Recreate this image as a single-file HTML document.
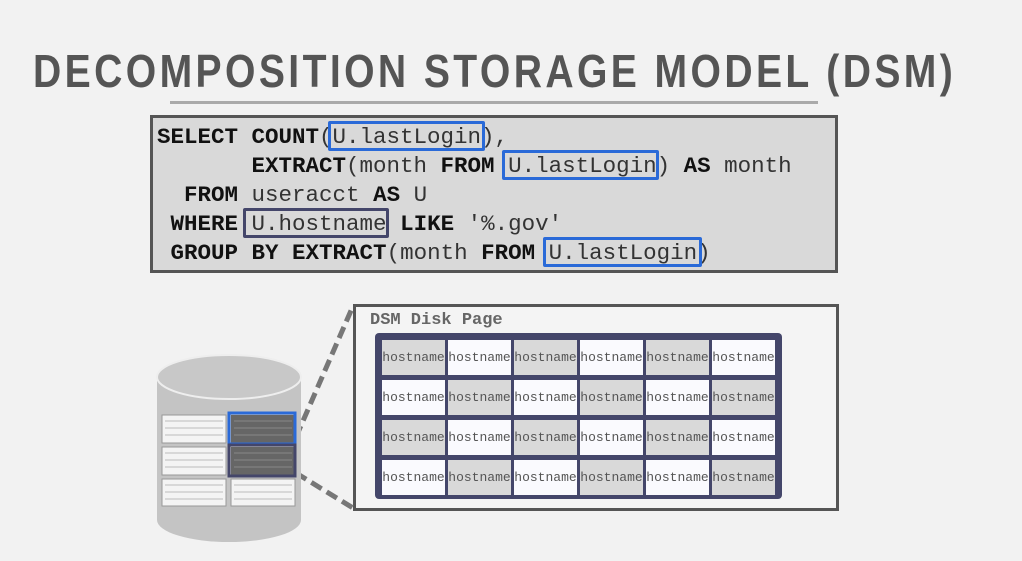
<!DOCTYPE html>
<html><head><meta charset="utf-8"><style>
body{margin:0;width:1022px;height:561px;background:#f2f2f2;position:relative;overflow:hidden;font-family:"Liberation Sans",sans-serif}
.abs{position:absolute}
.title{left:33px;top:44px;font-size:46px;font-weight:bold;color:#555;letter-spacing:4px;white-space:nowrap;transform-origin:0 0;transform:scaleX(0.85)}
.sql{left:150px;top:115px;width:682px;height:152px;background:#d9d9d9;border:3px solid #555}
pre{margin:0;position:absolute;left:157px;top:123px;font-family:"Liberation Mono",monospace;font-size:22.5px;line-height:29px;color:#333}
pre b{color:#111}
.bx{position:absolute;border:3px solid #2a6ad8;border-radius:2px;box-sizing:border-box}
.page{left:353px;top:304px;width:480px;height:201px;background:#f4f4f4;border:3px solid #555}
.frame{left:375px;top:333px;width:407px;height:166px;background:#44466a;border-radius:4px}
.cell{position:absolute;width:63px;height:35px;font-family:"Liberation Mono",monospace;font-size:13px;color:#555;line-height:35px;text-align:center;overflow:hidden;white-space:nowrap}
</style></head><body>
<div class="abs title">DECOMPOSITION STORAGE MODEL (DSM)</div>
<div class="abs" style="left:170px;top:101px;width:648px;height:3px;background:#aaa"></div>
<div class="abs sql"></div>
<pre><b>SELECT COUNT</b>(U.lastLogin),
       <b>EXTRACT</b>(month <b>FROM</b> U.lastLogin) <b>AS</b> month
  <b>FROM</b> useracct <b>AS</b> U
 <b>WHERE</b> U.hostname <b>LIKE</b> '%.gov'
 <b>GROUP BY EXTRACT</b>(month <b>FROM</b> U.lastLogin)</pre>
<div class="bx" style="left:328px;top:121px;width:157px;height:30px"></div>
<div class="bx" style="left:502px;top:150px;width:157px;height:30px"></div>
<div class="bx" style="left:243px;top:208px;width:146px;height:30px;border-color:#44466a"></div>
<div class="bx" style="left:543px;top:237px;width:159px;height:30px"></div>

<div class="abs page"></div>
<div class="abs" style="left:370px;top:311px;font-family:'Liberation Mono',monospace;font-weight:bold;font-size:17px;color:#666">DSM Disk Page</div>
<div class="abs frame"></div>
<div id="g"></div>
<script>
var h='';for(var r=0;r<4;r++)for(var c=0;c<6;c++){var gray=((r+c)%2==0);
h+='<div class="cell" style="left:'+(382+c*66)+'px;top:'+(340+r*40)+'px;background:'+(gray?'#d9d9d9':'#fafafe')+'">hostname</div>';}
document.getElementById('g').innerHTML=h;
</script>

<svg class="abs" style="left:0;top:0" width="1022" height="561">
<line x1="296" y1="437" x2="353" y2="306" stroke="#777" stroke-width="5" stroke-dasharray="12,6"/>
<line x1="296" y1="473" x2="353" y2="508" stroke="#777" stroke-width="5" stroke-dasharray="12,6"/>
<path d="M157 380 L157 520 A72 22 0 0 0 301 520 L301 380 Z" fill="#c4c4c4"/>
<ellipse cx="229" cy="377" rx="72" ry="22" fill="#c8c8c8" stroke="#eee" stroke-width="2"/>
<g fill="#f4f4f4" stroke="#999" stroke-width="1">
<rect x="162" y="415" width="64" height="28"/><rect x="162" y="447" width="64" height="28"/>
<rect x="162" y="479" width="64" height="27"/><rect x="231" y="479" width="64" height="27"/>
</g>
<g fill="#666"><rect x="231" y="415" width="64" height="28"/><rect x="231" y="447" width="64" height="28"/></g>
<g stroke="#bbb" stroke-width="1">
<line x1="165" y1="421" x2="223" y2="421"/><line x1="165" y1="428" x2="223" y2="428"/><line x1="165" y1="435" x2="223" y2="435"/>
<line x1="165" y1="453" x2="223" y2="453"/><line x1="165" y1="460" x2="223" y2="460"/><line x1="165" y1="467" x2="223" y2="467"/>
<line x1="165" y1="485" x2="223" y2="485"/><line x1="165" y1="492" x2="223" y2="492"/><line x1="165" y1="499" x2="223" y2="499"/>
<line x1="234" y1="485" x2="292" y2="485"/><line x1="234" y1="492" x2="292" y2="492"/><line x1="234" y1="499" x2="292" y2="499"/>
</g>
<g stroke="#888" stroke-width="1">
<line x1="234" y1="421" x2="292" y2="421"/><line x1="234" y1="428" x2="292" y2="428"/><line x1="234" y1="435" x2="292" y2="435"/>
<line x1="234" y1="453" x2="292" y2="453"/><line x1="234" y1="460" x2="292" y2="460"/><line x1="234" y1="467" x2="292" y2="467"/>
</g>
<rect x="229" y="413" width="66" height="31" fill="none" stroke="#2a6ad8" stroke-width="3"/>
<rect x="229" y="445" width="66" height="31" fill="none" stroke="#44466a" stroke-width="3"/>
</svg>
</body></html>
